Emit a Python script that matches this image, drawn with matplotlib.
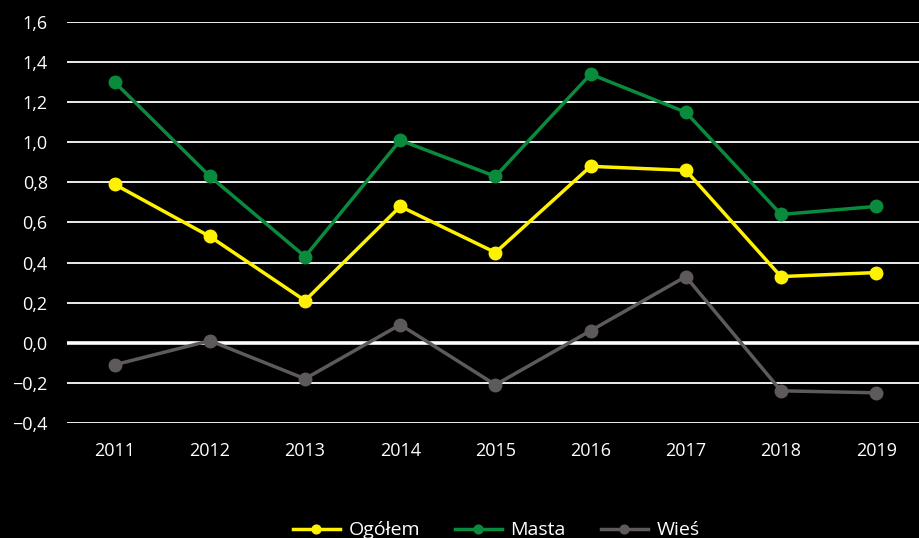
import matplotlib.pyplot as plt
from matplotlib.ticker import FuncFormatter

plt.rcParams['font.family'] = ['Open Sans', 'DejaVu Sans']

# data
years = [2011, 2012, 2013, 2014, 2015, 2016, 2017, 2018, 2019]
ogolem = [0.79, 0.53, 0.21, 0.68, 0.45, 0.88, 0.86, 0.33, 0.35]
masta = [1.30, 0.83, 0.43, 1.01, 0.83, 1.34, 1.15, 0.64, 0.68]
wies = [-0.11, 0.01, -0.18, 0.09, -0.21, 0.06, 0.33, -0.24, -0.25]
yticks = [-0.4, -0.2, 0.0, 0.2, 0.4, 0.6, 0.8, 1.0, 1.2, 1.4, 1.6]

fig = plt.figure(figsize=(9.19, 5.38), dpi=100, facecolor='black')
ax = fig.add_axes([0.073, 0.214, 0.927, 0.745], facecolor='black')

# horizontal grid
for v in yticks:
    ax.axhline(v, color='white', lw=2.6 if v == 0 else 1.3, zorder=1)

ax.plot(years, ogolem, color='#fff200', lw=2.5, marker='o', ms=9, label='Ogółem', zorder=3)
ax.plot(years, masta, color='#0a8a3c', lw=2.5, marker='o', ms=9, label='Masta', zorder=3)
ax.plot(years, wies, color='#5e5a5a', lw=2.5, marker='o', ms=9, label='Wieś', zorder=3)

ax.set_xlim(2010.5, 2019.45)
ax.set_ylim(-0.4, 1.6)
ax.set_xticks(years)
ax.set_yticks(yticks)
ax.yaxis.set_major_formatter(FuncFormatter(lambda v, p: f'{v:.1f}'.replace('.', ',').replace('-', '\u2212')))
ax.tick_params(colors='white', labelsize=13, length=0)
ax.tick_params(axis='y', pad=14)
ax.tick_params(axis='x', pad=14)
for s in ax.spines.values():
    s.set_visible(False)

leg = fig.legend(loc='lower center', bbox_to_anchor=(0.54, -0.035), ncol=3, frameon=False,
                 fontsize=14, labelcolor='white', handlelength=2.4, columnspacing=1.8,
                 handletextpad=0.45, markerscale=0.7)

fig.savefig('out.png', dpi=100, facecolor='black')
